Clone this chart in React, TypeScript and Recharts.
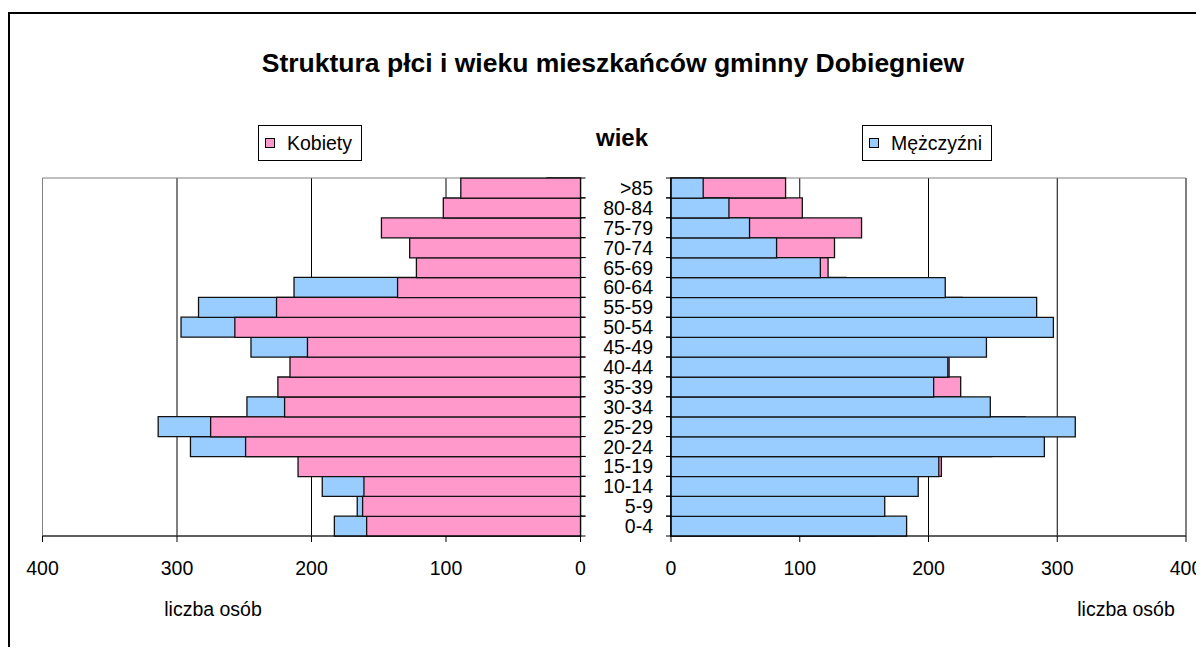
import React from "react";
import { BarChart, Bar, XAxis, YAxis, CartesianGrid, Legend, ReferenceArea } from "recharts";

const ageGroups = ["0-4", "5-9", "10-14", "15-19", "20-24", "25-29", "30-34", "35-39", "40-44", "45-49", "50-54", "55-59", "60-64", "65-69", "70-74", "75-79", "80-84", ">85"];
const women = [159, 162, 161, 210, 249, 275, 220, 225, 216, 203, 257, 226, 136, 122, 127, 148, 102, 89];
const men = [183, 166, 192, 208, 290, 314, 248, 204, 215, 245, 297, 284, 213, 116, 82, 61, 45, 25];
const xTicks = [0, 100, 200, 300, 400];

const PINK = "#FF99CC";
const BLUE = "#99CCFF";
const FONT = '"Liberation Sans", Arial, sans-serif';
const TXT = 19.5;

const data = ageGroups.map((age, i) => ({ age, women: women[i], men: men[i] }));

// excel style ticks sit between categories, labels only on the right panel
function AgeTick(props: any) {
  const { x, y, payload, side, showLabel } = props;
  const half = payload && payload.offset ? payload.offset : 10;
  const dx = side === "right" ? 5 : -5;
  return (
    <g>
      <line x1={x} x2={x + dx} y1={y - half} y2={y - half} stroke="#000" />
      <line x1={x} x2={x + dx} y1={y + half} y2={y + half} stroke="#000" />
      {showLabel && (
        <text x={x - 18} y={y} dy={7} textAnchor="end" fontSize={TXT} fontFamily={FONT} fill="#000">
          {payload.value}
        </text>
      )}
    </g>
  );
}

function LegendBox({ color, label }: { color: string; label: string }) {
  return (
    <div
      style={{
        display: "flex",
        alignItems: "center",
        height: 34,
        border: "1px solid #000",
        background: "#fff",
        padding: "0 9px 0 6px",
        fontFamily: FONT,
        fontSize: TXT,
        whiteSpace: "nowrap",
        color: "#000",
      }}
    >
      <span style={{ width: 8, height: 8, border: "1px solid #000", background: color, marginRight: 12 }} />
      {label}
    </div>
  );
}

const tickStyle = { fill: "#000", fontSize: TXT, fontFamily: FONT };
const barStroke = { stroke: "#111", strokeWidth: 1.3 };

export default function App() {
  return (
    <div style={{ position: "relative", width: 1196, height: 639, overflow: "hidden", fontFamily: FONT, background: "#fff" }}>
      <div style={{ position: "absolute", left: 0, top: 4, right: 0, bottom: 0, borderTop: "2px solid #000", borderLeft: "2px solid #000" }} />
      <div style={{ position: "absolute", left: 5, top: 41.6, width: 1200, textAlign: "center", fontSize: 26.5, fontWeight: "bold", lineHeight: "26.5px" }}>
        Struktura płci i wieku mieszkańców gminny Dobiegniew
      </div>
      <div style={{ position: "absolute", left: 514, top: 117.7, width: 200, textAlign: "center", fontSize: 24, fontWeight: "bold", lineHeight: "24px" }}>
        wiek
      </div>

      <div style={{ position: "absolute", left: 0, top: 0 }}>
        <BarChart
          width={620}
          height={600}
          data={data}
          layout="vertical"
          barCategoryGap={0}
          barGap="-100%"
          margin={{ top: 170, left: 34.5, right: 37.5, bottom: 42 }}
        >
          <CartesianGrid horizontal={false} stroke="#000" />
          <ReferenceArea x1={0} x2={400} fill="none" fillOpacity={0} stroke="#808080" />
          <XAxis
            type="number"
            reversed
            domain={[0, 400]}
            ticks={xTicks}
            height={30}
            tickSize={6}
            tickMargin={19}
            tick={tickStyle}
            stroke="#000"
            interval={0}
          />
          <YAxis
            type="category"
            dataKey="age"
            orientation="right"
            reversed
            width={10}
            tickSize={0}
            tickMargin={0}
            tickLine={false}
            interval={0}
            stroke="#000"
            tick={<AgeTick side="right" />}
          />
          <Bar dataKey="men" name="Mężczyźni" fill={BLUE} {...barStroke} isAnimationActive={false} />
          <Bar dataKey="women" name="Kobiety" fill={PINK} {...barStroke} isAnimationActive={false} />
          <Legend
            verticalAlign="middle"
            align="center"
            layout="horizontal"
            wrapperStyle={{ position: "absolute", left: 250, top: 117, width: "auto", height: "auto" }}
            content={() => <LegendBox color={PINK} label="Kobiety" />}
          />
        </BarChart>
      </div>

      <div style={{ position: "absolute", left: 592, top: 0 }}>
        <BarChart
          width={604}
          height={600}
          data={data}
          layout="vertical"
          barCategoryGap={0}
          barGap="-100%"
          margin={{ top: 170, left: 0, right: 18, bottom: 42 }}
        >
          <CartesianGrid horizontal={false} stroke="#000" />
          <ReferenceArea x1={0} x2={400} fill="none" fillOpacity={0} stroke="#808080" />
          <XAxis
            type="number"
            domain={[0, 400]}
            ticks={xTicks}
            height={30}
            tickSize={6}
            tickMargin={19}
            tick={tickStyle}
            stroke="#000"
            interval={0}
          />
          <YAxis
            type="category"
            dataKey="age"
            orientation="left"
            reversed
            width={71}
            tickSize={0}
            tickMargin={0}
            tickLine={false}
            interval={0}
            stroke="#000"
            tick={<AgeTick side="left" showLabel />}
          />
          <Bar dataKey="women" name="Kobiety" fill={PINK} {...barStroke} isAnimationActive={false} />
          <Bar dataKey="men" name="Mężczyźni" fill={BLUE} {...barStroke} isAnimationActive={false} />
          <Legend
            verticalAlign="middle"
            align="center"
            layout="horizontal"
            wrapperStyle={{ position: "absolute", left: 262, top: 117, width: "auto", height: "auto" }}
            content={() => <LegendBox color={BLUE} label="Mężczyźni" />}
          />
        </BarChart>
      </div>

      <div style={{ position: "absolute", left: 105, top: 591.5, width: 200, textAlign: "center", fontSize: TXT, lineHeight: `${TXT}px` }}>
        liczba osób
      </div>
      <div style={{ position: "absolute", left: 1018, top: 591.5, width: 200, textAlign: "center", fontSize: TXT, lineHeight: `${TXT}px` }}>
        liczba osób
      </div>
    </div>
  );
}
